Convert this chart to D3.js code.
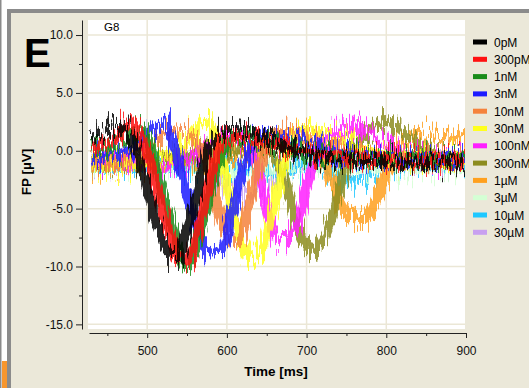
<!DOCTYPE html>
<html>
<head>
<meta charset="utf-8">
<script src="https://cdn.jsdelivr.net/npm/d3@7"></script>
<style>
html, body { margin: 0; padding: 0; background: #fff; }
svg { display: block; font-family: "Liberation Sans", Arial, sans-serif; }
</style>
</head>
<body>
<svg id="chart" width="529" height="388"></svg>
<script>
// sample times [ms]
var times = [430, 440, 450, 460, 470, 480, 490, 500, 510, 520, 530, 540, 550, 560, 570, 580,
   590, 600, 610, 620, 630, 640, 650, 660, 670, 680, 690, 700, 710, 720, 730, 740,
   750, 760, 770, 780, 790, 800, 810, 820, 830, 840, 850, 860, 870, 880, 890, 900];

// FP [µV] per concentration
var fp0pM = [1.2, 1.6, 1.8, 2.0, 1.8, 1.0, -0.8, -3.2, -5.8, -7.9, -9.0, -9.0, -7.0, -4.3, -1.6, 0.8,
   1.5, 1.8, 1.8, 1.7, 1.5, 1.3, 1.0, 0.7, 0.4, 0.2, 0.0, -0.2, -0.4, -0.5, -0.6, -0.7,
   -0.7, -0.8, -0.8, -0.8, -0.9, -0.9, -0.9, -0.9, -1.0, -1.0, -1.0, -1.0, -1.0, -1.0, -1.0, -1.0];
var fp300pM = [0.3, 0.5, 0.8, 1.2, 1.8, 2.2, 1.6, -0.3, -2.8, -5.3, -7.8, -9.3, -9.5, -7.8, -4.8, -1.8,
   0.2, 1.0, 1.2, 1.2, 1.1, 1.0, 0.8, 0.6, 0.4, 0.2, 0.0, -0.2, -0.3, -0.4, -0.5, -0.5,
   -0.6, -0.6, -0.6, -0.7, -0.7, -0.7, -0.7, -0.8, -0.8, -0.8, -0.8, -0.8, -0.8, -0.8, -0.8, -0.8];
var fp1nM = [0.0, 0.2, 0.3, 0.5, 0.8, 1.2, 1.8, 1.2, -1.2, -3.8, -6.3, -8.6, -9.8, -8.6, -6.0, -3.2,
   -0.8, 0.6, 1.2, 1.3, 1.2, 1.0, 0.8, 0.6, 0.4, 0.2, 0.0, -0.2, -0.3, -0.4, -0.5, -0.5,
   -0.6, -0.6, -0.6, -0.7, -0.7, -0.7, -0.7, -0.7, -0.7, -0.7, -0.7, -0.7, -0.7, -0.7, -0.7, -0.7];
var fp3nM = [-0.6, -0.5, -0.4, -0.3, -0.1, 0.2, 0.6, 1.2, 2.0, 2.3, 1.2, -1.2, -3.8, -6.2, -8.0, -8.8,
   -8.8, -7.0, -4.5, -1.6, 0.4, 1.2, 1.3, 1.3, 1.2, 1.1, 1.0, 0.7, 0.4, 0.1, -0.1, -0.3,
   -0.4, -0.5, -0.5, -0.6, -0.6, -0.6, -0.6, -0.7, -0.7, -0.7, -0.7, -0.7, -0.7, -0.7, -0.7, -0.7];
var fp10nM = [-1.2, -1.2, -1.1, -1.0, -0.8, -0.5, -0.2, 0.3, 0.8, 1.2, 1.5, 1.6, 1.4, 1.0, 0.0, -2.5,
   -5.3, -7.3, -7.8, -6.8, -4.2, -1.6, 0.2, 1.0, 1.3, 1.4, 1.3, 1.1, 0.8, 0.5, 0.2, 0.0,
   -0.2, -0.3, -0.4, -0.5, -0.5, -0.6, -0.6, -0.6, -0.6, -0.6, -0.6, -0.6, -0.6, -0.6, -0.6, -0.6];
var fp30nM = [-1.3, -1.3, -1.2, -1.2, -1.1, -1.0, -0.9, -0.7, -0.5, -0.4, -0.3, 0.0, 0.8, 1.8, 2.5, 2.2,
   0.2, -2.8, -5.8, -8.2, -9.3, -9.0, -7.2, -4.5, -1.6, 0.6, 1.5, 1.8, 1.7, 1.5, 1.3, 1.1,
   0.9, 0.6, 0.3, 0.0, -0.3, -0.5, -0.6, -0.7, -0.7, -0.7, -0.7, -0.7, -0.7, -0.7, -0.7, -0.7];
var fp100nM = [-0.8, -0.8, -0.9, -0.9, -1.0, -1.0, -1.1, -1.2, -1.3, -1.4, -1.3, -1.1, -0.8, -0.3, 0.3, 0.8,
   1.0, 1.1, 1.1, 0.9, 0.2, -1.8, -4.8, -7.2, -7.8, -7.5, -6.0, -3.2, -0.6, 0.7, 1.2, 1.6,
   2.0, 2.1, 1.9, 1.5, 1.0, 0.5, 0.0, -0.3, -0.5, -0.6, -0.7, -0.7, -0.7, -0.7, -0.7, -0.7];
var fp300nM = [-1.0, -1.0, -1.0, -1.0, -1.0, -1.0, -1.0, -1.0, -0.9, -0.8, -0.7, -0.6, -0.5, -0.4, -0.3, -0.2,
   -0.1, 0.0, 0.1, 0.1, 0.0, -0.1, -0.2, -0.6, -2.0, -4.5, -6.9, -8.2, -8.4, -7.6, -6.0, -3.8,
   -1.3, 0.4, 1.2, 1.8, 2.3, 2.4, 2.1, 1.6, 1.0, 0.4, 0.0, -0.3, -0.5, -0.6, -0.6, -0.6];
var fp1uM = [-1.3, -1.3, -1.3, -1.3, -1.2, -1.2, -1.2, -1.1, -1.1, -1.0, -1.0, -1.0, -0.9, -0.9, -0.8, -0.8,
   -0.7, -0.6, -0.4, -0.2, 0.1, 0.4, 0.7, 0.9, 1.1, 1.3, 1.4, 1.3, 0.9, -0.4, -2.4, -4.2,
   -5.3, -5.8, -5.9, -5.3, -3.8, -2.0, -0.5, 0.5, 1.0, 1.3, 1.4, 1.4, 1.3, 1.2, 1.0, 0.8];
var fp3uM = [-1.2, -1.2, -1.2, -1.2, -1.2, -1.2, -1.2, -1.2, -1.2, -1.2, -1.2, -1.3, -1.4, -1.5, -1.6, -1.7,
   -1.8, -1.9, -2.0, -2.0, -1.9, -1.8, -1.7, -1.6, -1.5, -1.4, -1.4, -1.4, -1.4, -1.4, -1.4, -1.4,
   -1.5, -1.5, -1.5, -1.5, -1.5, -1.5, -1.5, -1.5, -1.5, -1.5, -1.5, -1.5, -1.5, -1.5, -1.5, -1.5];
var fp10uM = [-1.4, -1.4, -1.4, -1.4, -1.4, -1.4, -1.4, -1.4, -1.4, -1.4, -1.4, -1.4, -1.4, -1.4, -1.4, -1.4,
   -1.4, -1.4, -1.4, -1.4, -1.5, -1.6, -1.8, -1.9, -1.9, -1.7, -1.4, -1.2, -1.2, -1.4, -1.8, -2.2,
   -2.5, -2.6, -2.4, -1.9, -1.4, -1.1, -1.0, -1.0, -1.0, -1.0, -1.0, -1.0, -1.0, -1.0, -1.0, -1.0];
var fp30uM = [-1.0, -1.0, -1.0, -1.0, -1.0, -1.0, -1.0, -1.0, -1.0, -1.0, -1.0, -1.0, -1.0, -1.1, -1.3, -1.7,
   -2.5, -3.2, -3.5, -3.6, -3.8, -3.5, -3.0, -2.5, -1.8, -1.3, -1.1, -1.0, -1.0, -1.0, -1.0, -1.0,
   -1.0, -1.0, -1.0, -1.0, -1.0, -1.0, -1.0, -1.0, -1.0, -1.0, -1.0, -1.0, -1.0, -1.0, -1.0, -1.0];

var labels = ["0pM", "300pM", "1nM", "3nM", "10nM", "30nM", "100nM", "300nM", "1µM", "3µM", "10µM", "30µM"];
var colors = ["#000000", "#ff1010", "#1a8c1a", "#1c1cff", "#f5823c", "#ffff1e", "#ff1eff",
   "#8c8c1e", "#ffa01e", "#d4ffd4", "#1ec8ff", "#c8a0f0"];
var values = [fp0pM, fp300pM, fp1nM, fp3nM, fp10nM, fp30nM, fp100nM, fp300nM, fp1uM, fp3uM, fp10uM, fp30uM];

var yTicks = [10, 5, 0, -5, -10, -15];
var yMinor = [7.5, 2.5, -2.5, -7.5, -12.5];
var xTicks = [500, 600, 700, 800, 900];
var xMinor = [450, 550, 650, 750, 850];

var svg = d3.select("#chart");
var beige = "#ebe8d9";
var frameGray = "#8b8b8b";

// page frame
svg.append("rect").attr("width", 529).attr("height", 388).attr("fill", "#fff");
svg.append("rect").attr("x", 0).attr("y", 0).attr("width", 1.5).attr("height", 388).attr("fill", frameGray);
svg.append("rect").attr("x", 7).attr("y", 9).attr("width", 522).attr("height", 379).attr("fill", beige);
svg.append("rect").attr("x", 7).attr("y", 9).attr("width", 4).attr("height", 379).attr("fill", frameGray);
svg.append("rect").attr("x", 7).attr("y", 9).attr("width", 522).attr("height", 4).attr("fill", frameGray);
svg.append("rect").attr("x", 2).attr("y", 361).attr("width", 5).attr("height", 27).attr("fill", "#f7962e");

// panel letter
svg.append("text").attr("x", 24).attr("y", 67)
   .attr("font-size", 40).attr("font-weight", "bold").attr("fill", "#000").text("E");

var plot = { left: 88, right: 465, top: 20, bottom: 329 };

var x = d3.scaleLinear().domain([427, 900]).range([89, 466]);
var y = d3.scaleLinear().domain([-15.4, 11.3]).range([plot.bottom, plot.top]);

// plot background + grid
svg.append("rect").attr("x", plot.left).attr("y", plot.top)
   .attr("width", plot.right - plot.left).attr("height", plot.bottom - plot.top).attr("fill", "#fff");

var grid = svg.append("g").attr("stroke", "#ebe7d6").attr("stroke-width", 1.5);
grid.selectAll("line.h").data(yTicks).enter().append("line")
   .attr("x1", plot.left).attr("x2", plot.right)
   .attr("y1", (d) => y(d)).attr("y2", (d) => y(d));
grid.selectAll("line.v").data(xTicks.slice(0, 4)).enter().append("line")
   .attr("y1", plot.top).attr("y2", plot.bottom)
   .attr("x1", (d) => x(d)).attr("x2", (d) => x(d));

svg.append("text").attr("x", 104).attr("y", 31).attr("font-size", 11.5).text("G8");

// noise texture filters, one per trace
var defs = svg.append("defs");
values.forEach(function (v, i) {
   var f = defs.append("filter").attr("id", "jit" + i)
      .attr("filterUnits", "userSpaceOnUse")
      .attr("x", 60).attr("y", 0).attr("width", 440).attr("height", 360)
      .attr("color-interpolation-filters", "sRGB");
   f.append("feTurbulence").attr("type", "fractalNoise")
      .attr("baseFrequency", "0.5 0.04").attr("numOctaves", 2)
      .attr("seed", i * 7 + 3).attr("result", "n");
   f.append("feColorMatrix").attr("in", "n").attr("type", "matrix")
      .attr("values", "0 0 0 0 0.5  0 1 0 0 0  0 0 0 0 0  0 0 0 0 1").attr("result", "m");
   f.append("feDisplacementMap").attr("in", "SourceGraphic").attr("in2", "m")
      .attr("scale", 48).attr("xChannelSelector", "R").attr("yChannelSelector", "G");
});
defs.append("clipPath").attr("id", "plotClip").append("rect")
   .attr("x", plot.left).attr("y", plot.top)
   .attr("width", plot.right - plot.left).attr("height", plot.bottom - plot.top);

var line = d3.line()
   .x((d, i) => x(times[i]))
   .y((d) => y(d))
   .curve(d3.curveMonotoneX);

// traces, highest concentration first so 0pM ends on top
var traces = svg.append("g").attr("clip-path", "url(#plotClip)");
d3.range(values.length).reverse().forEach(function (i) {
   traces.append("path")
      .datum(values[i])
      .attr("d", line)
      .attr("fill", "none")
      .attr("stroke", colors[i])
      .attr("stroke-width", 10)
      .attr("stroke-opacity", 0.85)
      .attr("filter", "url(#jit" + i + ")");
});

// axes
var fmt = (d) => d.toFixed(1);
svg.append("g").attr("transform", "translate(82,0)")
   .call(d3.axisLeft(y).tickValues(yTicks).tickFormat(fmt).tickSize(6).tickSizeOuter(0).tickPadding(3));
svg.append("g").attr("transform", "translate(82,0)")
   .call(d3.axisLeft(y).tickValues(yMinor).tickFormat("").tickSize(3).tickSizeOuter(0))
   .select(".domain").remove();

svg.append("g").attr("transform", "translate(0,333)")
   .call(d3.axisBottom(x).tickValues(xTicks).tickSize(5).tickSizeOuter(0).tickPadding(8));
svg.append("g").attr("transform", "translate(0,333)")
   .call(d3.axisBottom(x).tickValues(xMinor).tickFormat("").tickSize(3).tickSizeOuter(0))
   .select(".domain").remove();

svg.selectAll(".tick text").attr("font-size", 12).attr("fill", "#111")
   .attr("font-family", "\"Liberation Sans\", Arial, sans-serif");
svg.selectAll(".domain, .tick line").attr("stroke", "#222");

svg.append("text").attr("x", 276).attr("y", 376).attr("text-anchor", "middle")
   .attr("font-size", 13.5).attr("font-weight", "bold").text("Time [ms]");
svg.append("text").attr("transform", "translate(31,172) rotate(-90)").attr("text-anchor", "middle")
   .attr("font-size", 13.5).attr("font-weight", "bold").text("FP [µV]");

// legend
var legend = svg.append("g").selectAll("g").data(labels).enter().append("g")
   .attr("transform", (d, i) => "translate(473," + (42 + i * 17.3) + ")");
legend.append("rect").attr("x", 0).attr("y", -2.5).attr("width", 14).attr("height", 5)
   .attr("fill", (d, i) => colors[i]);
legend.append("text").attr("x", 21).attr("y", 4.5).attr("font-size", 12).text((d) => d);
</script>
</body>
</html>
